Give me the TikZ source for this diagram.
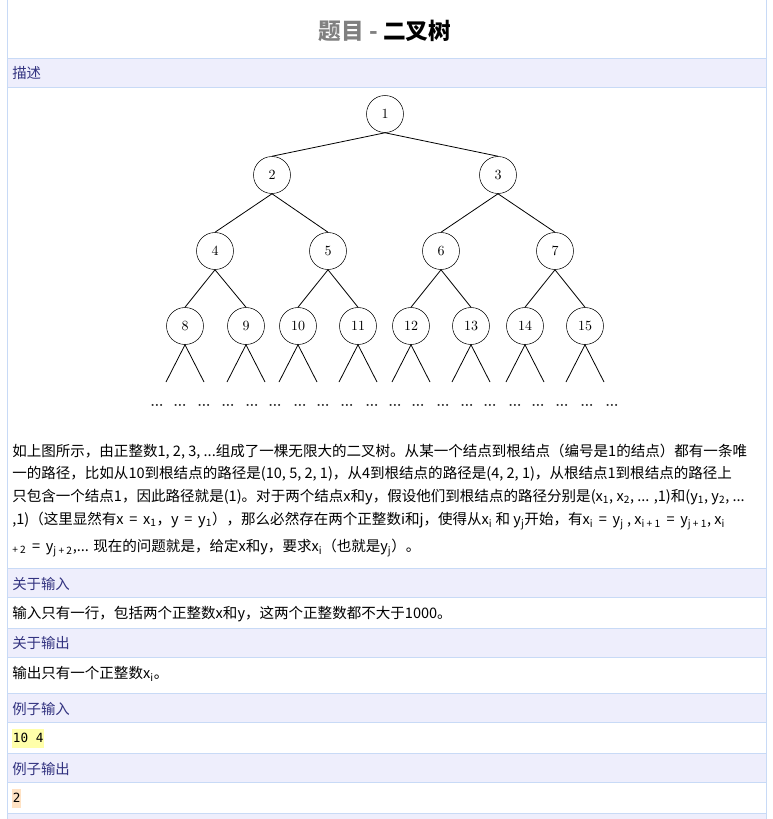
\documentclass[tikz,border=0pt]{standalone}
\usepackage{fontspec}
\newfontfamily\cjk{Noto Sans CJK SC}
\newfontfamily\codefont{DejaVu Sans Mono}
\definecolor{bandfill}{RGB}{238,238,252}
\definecolor{bandline}{RGB}{200,218,246}
\definecolor{headtext}{RGB}{51,51,128}
\definecolor{titlegray}{RGB}{128,128,128}
\definecolor{inmark}{RGB}{255,255,170}
\definecolor{outmark}{RGB}{255,226,196}
\tikzset{
  vertex/.style={circle,draw,minimum size=27.75pt,inner sep=0pt,font=\fontsize{10.5}{12}\selectfont},
  band/.style={fill=bandfill,draw=bandline,line width=0.75pt},
  head/.style={anchor=west,inner sep=0pt,text=headtext,font=\cjk\fontsize{10.8}{12}\selectfont},
  body/.style={anchor=west,inner sep=0pt,font=\cjk\fontsize{10.9}{12}\selectfont},
  code/.style={anchor=west,inner xsep=0.5pt,inner ysep=0pt,minimum height=14.25pt,font=\codefont\fontsize{9.5}{11}\selectfont},
  more/.style={inner sep=0pt,text=black!85,font=\bfseries}
}
\begin{document}
\begin{tikzpicture}[x=0.75pt,y=-0.75pt]
  \useasboundingbox (0,0) rectangle (773,819);
  % page frame and section bands
  \draw[band] (7,58) rectangle (766,87);
  \draw[band] (7,568) rectangle (766,597);
  \draw[band] (7,628) rectangle (766,657);
  \draw[band] (7,693) rectangle (766,722);
  \draw[band] (7,753) rectangle (766,782);
  \draw[band] (7,813) rectangle (766,830);
  \draw[bandline,line width=0.75pt] (7,0) -- (7,819) (766,0) -- (766,819);
  % title
  \node[font=\cjk\bfseries\fontsize{17}{20}\selectfont] (title) at (385,31)
    {\textcolor{titlegray}{题目 -} 二叉树};
  \node[head] (desc) at (12,73) {描述};
  % the tree
  \draw
    (385,114) node[vertex] (1){1}
    (272,175) node[vertex] (2){2}
    (498,175) node[vertex] (3){3}
    (215,251) node[vertex] (4){4}
    (328,251) node[vertex] (5){5}
    (441,251) node[vertex] (6){6}
    (555,251) node[vertex] (7){7}
    (185,326) node[vertex] (8){8}
    (246,326) node[vertex] (9){9}
    (298,326) node[vertex] (10){10}
    (358,326) node[vertex] (11){11}
    (411,326) node[vertex] (12){12}
    (471,326) node[vertex] (13){13}
    (525,326) node[vertex] (14){14}
    (585,326) node[vertex] (15){15};
  \path
    (166,382) coordinate (8l) (204,382) coordinate (8r)
    (227,382) coordinate (9l) (265,382) coordinate (9r)
    (279,382) coordinate (10l) (317,382) coordinate (10r)
    (339,382) coordinate (11l) (377,382) coordinate (11r)
    (392,382) coordinate (12l) (430,382) coordinate (12r)
    (452,382) coordinate (13l) (490,382) coordinate (13r)
    (506,382) coordinate (14l) (544,382) coordinate (14r)
    (566,382) coordinate (15l) (604,382) coordinate (15r);
  \begin{scope}[line width=0.6pt]
    \draw (1.south) to (2.north);
    \draw (1.south) to (3.north);
    \draw (2.south) to (4.north);
    \draw (2.south) to (5.north);
    \draw (3.south) to (6.north);
    \draw (3.south) to (7.north);
    \draw (4.south) to (8.north);
    \draw (4.south) to (9.north);
    \draw (5.south) to (10.north);
    \draw (5.south) to (11.north);
    \draw (6.south) to (12.north);
    \draw (6.south) to (13.north);
    \draw (7.south) to (14.north);
    \draw (7.south) to (15.north);
    \draw (8l) to (8.south) to (8r);
    \draw (9l) to (9.south) to (9r);
    \draw (10l) to (10.south) to (10r);
    \draw (11l) to (11.south) to (11r);
    \draw (12l) to (12.south) to (12r);
    \draw (13l) to (13.south) to (13r);
    \draw (14l) to (14.south) to (14r);
    \draw (15l) to (15.south) to (15r);
  \end{scope}
  \path
    (157,405) node[more] (d1){...}  (180,405) node[more] (d2){...}
    (204,405) node[more] (d3){...}  (228,405) node[more] (d4){...}
    (252,405) node[more] (d5){...}  (275,405) node[more] (d6){...}
    (300,405) node[more] (d7){...}  (323,405) node[more] (d8){...}
    (347,405) node[more] (d9){...}  (372,405) node[more] (d10){...}
    (395,405) node[more] (d11){...} (418,405) node[more] (d12){...}
    (443,405) node[more] (d13){...} (467,405) node[more] (d14){...}
    (490,405) node[more] (d15){...} (515,405) node[more] (d16){...}
    (538,405) node[more] (d17){...} (562,405) node[more] (d18){...}
    (587,405) node[more] (d19){...} (612,405) node[more] (d20){...};
  % description text
  \node[body] (p1) at (12,452) {如上图所示，由正整数1, 2, 3, ...组成了一棵无限大的二叉树。从某一个结点到根结点（编号是1的结点）都有一条唯};
  \node[body] (p2) at (12,474) {一的路径，比如从10到根结点的路径是(10, 5, 2, 1)，从4到根结点的路径是(4, 2, 1)，从根结点1到根结点的路径上};
  \node[body] (p3) at (12,497) {只包含一个结点1，因此路径就是(1)。对于两个结点x和y，假设他们到根结点的路径分别是(x\textsubscript{1}, x\textsubscript{2}, ... ,1)和(y\textsubscript{1}, y\textsubscript{2}, ...};
  \node[body] (p4) at (12,521) {,1)（这里显然有x \,=\, x\textsubscript{1}，y \,=\, y\textsubscript{1}），那么必然存在两个正整数i和j，使得从x\textsubscript{i} 和 y\textsubscript{j}开始，有x\textsubscript{i} \,=\, y\textsubscript{j} , x\textsubscript{i + 1} \,=\, y\textsubscript{j + 1}, x\textsubscript{i}};
  \node[body] (p5) at (12,548) {\textsubscript{+ 2} \,=\, y\textsubscript{j + 2},... 现在的问题就是，给定x和y，要求x\textsubscript{i}（也就是y\textsubscript{j}）。};
  % input / output
  \node[head] (inhead) at (12,584) {关于输入};
  \node[body] (intext) at (12,614) {输入只有一行，包括两个正整数x和y，这两个正整数都不大于1000。};
  \node[head] (outhead) at (12,643) {关于输出};
  \node[body] (outtext) at (12,674) {输出只有一个正整数x\textsubscript{i}。};
  \node[head] (exinhead) at (12,709) {例子输入};
  \node[code,fill=inmark] (exin) at (12,738) {10 4};
  \node[head] (exouthead) at (12,769) {例子输出};
  \node[code,fill=outmark] (exout) at (12,798) {2};
\end{tikzpicture}
\end{document}
